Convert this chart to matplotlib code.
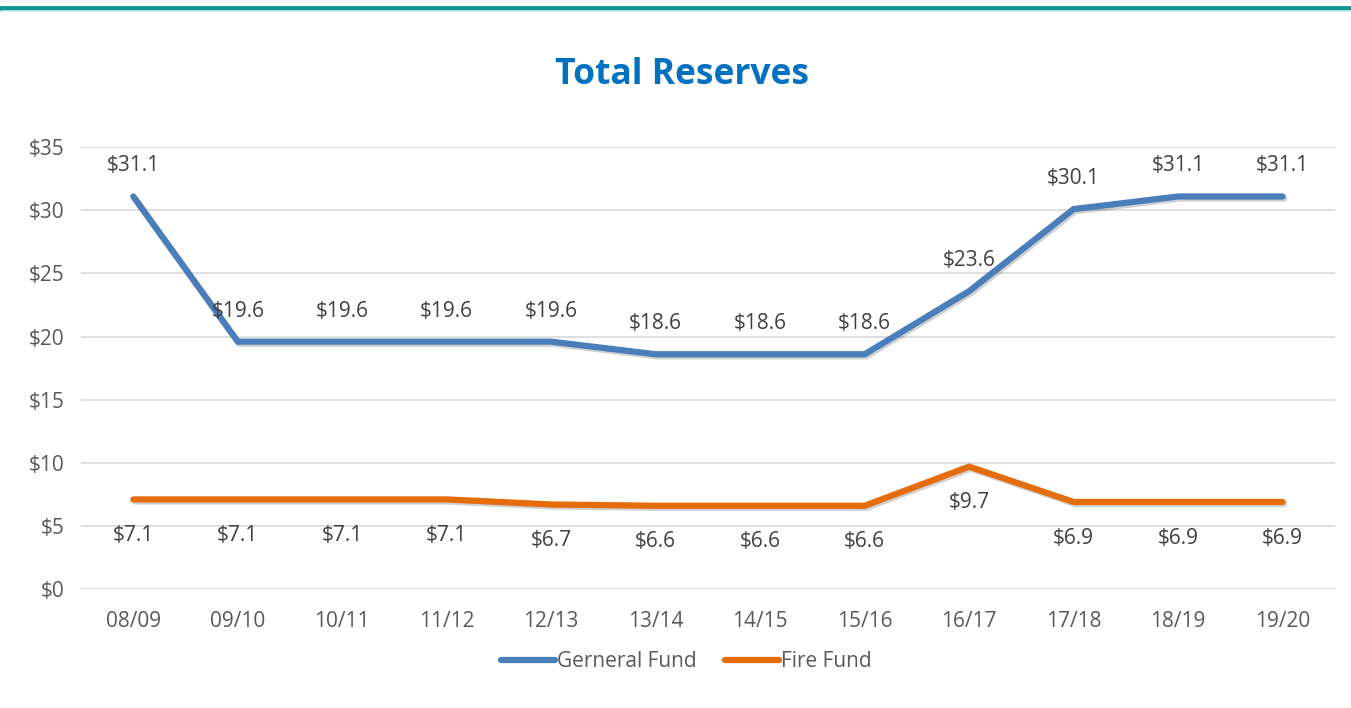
import matplotlib
matplotlib.use("Agg")
import matplotlib.pyplot as plt
import matplotlib.patheffects as pe
from matplotlib.lines import Line2D

years = ["08/09", "09/10", "10/11", "11/12", "12/13", "13/14",
         "14/15", "15/16", "16/17", "17/18", "18/19", "19/20"]
general_fund = [31.1, 19.6, 19.6, 19.6, 19.6, 18.6, 18.6, 18.6, 23.6, 30.1, 31.1, 31.1]
fire_fund = [7.1, 7.1, 7.1, 7.1, 6.7, 6.6, 6.6, 6.6, 9.7, 6.9, 6.9, 6.9]

blue = "#4A7EBB"
orange = "#E46C0A"
grey = "#595959"

plt.rcParams["font.family"] = ["Open Sans", "DejaVu Sans"]

fig = plt.figure(figsize=(13.51, 7.08), dpi=100)
ax = fig.add_axes([0.060, 0.168, 0.928, 0.624])

# teal band at the top of the slide
fig.add_artist(Line2D([0.0015, 1.0], [0.9885, 0.9885], color="#0E9690", lw=3.5,
                      transform=fig.transFigure))
fig.add_artist(Line2D([0.0015, 1.0], [0.984, 0.984], color="#CDEDEC", lw=1.2,
                      transform=fig.transFigure))

x = list(range(len(years)))
shadow = [pe.SimpleLineShadow(offset=(1.2, -1.5), alpha=0.18, shadow_color="black"), pe.Normal()]
ax.plot(x, general_fund, color=blue, lw=4.5, solid_capstyle="round",
        solid_joinstyle="miter", path_effects=shadow, zorder=3)
ax.plot(x, fire_fund, color=orange, lw=4.5, solid_capstyle="round",
        solid_joinstyle="miter", path_effects=shadow, zorder=3)

for xi, v in zip(x, general_fund):
    ax.annotate(f"${v:.1f}", (xi, v), xytext=(0, 22), textcoords="offset points",
                ha="center", va="center", fontsize=15, color="#404040")
for xi, v in zip(x, fire_fund):
    ax.annotate(f"${v:.1f}", (xi, v), xytext=(0, -26), textcoords="offset points",
                ha="center", va="center", fontsize=15, color="#404040")

ax.set_xlim(-0.5, len(years) - 0.5)
ax.set_ylim(0, 35)
ax.set_yticks(range(0, 36, 5))
ax.set_yticklabels([f"${t}" for t in range(0, 36, 5)])
ax.set_xticks(x)
ax.set_xticklabels(years)
ax.tick_params(axis="both", length=0, labelsize=15, labelcolor=grey)
ax.tick_params(axis="x", pad=16)
ax.tick_params(axis="y", pad=12)
ax.grid(axis="y", color="#D9D9D9", lw=1.2)
ax.set_axisbelow(True)
for s in ax.spines.values():
    s.set_visible(False)

fig.text(0.505, 0.894, "Total Reserves", ha="center", va="center",
         fontsize=25.5, fontweight="bold", color="#0070C0")

handles = [Line2D([], [], color=blue, lw=4.5, solid_capstyle="round"),
           Line2D([], [], color=orange, lw=4.5, solid_capstyle="round")]
fig.legend(handles, ["Gerneral Fund", "Fire Fund"], loc="center",
           bbox_to_anchor=(0.508, 0.065), ncol=2, frameon=False, fontsize=15,
           labelcolor=grey, handlelength=2.6, handletextpad=0.1, columnspacing=1.37)

fig.savefig("out.png", dpi=100)
